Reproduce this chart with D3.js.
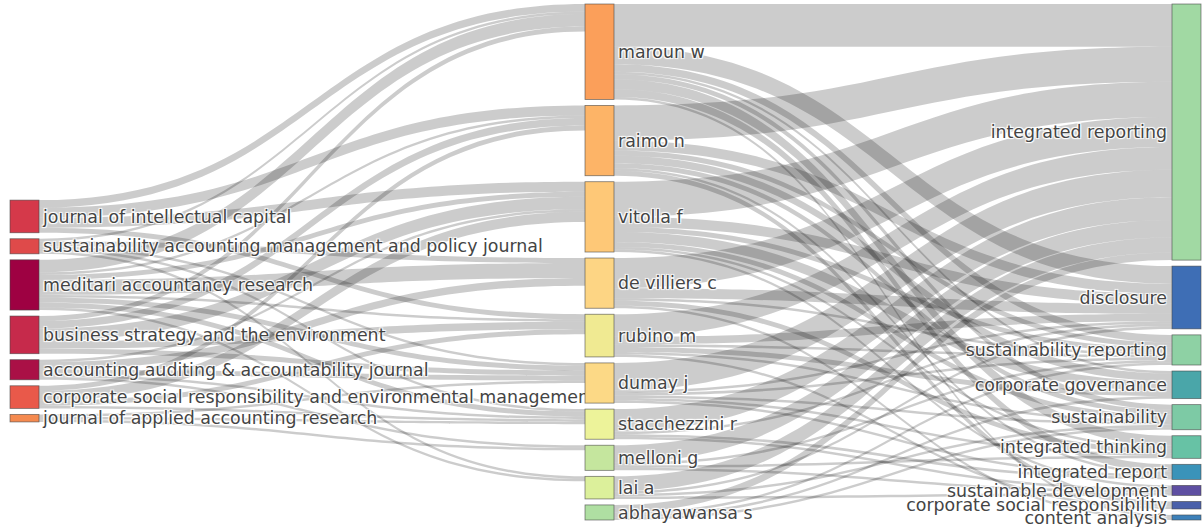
<!DOCTYPE html>
<html>
<head>
<meta charset="utf-8">
<script src="https://cdn.jsdelivr.net/npm/d3@7"></script>
<style>
    body { margin: 0; background: #fff; }
    svg { display: block; }
    .node-label {
        font-family: "DejaVu Sans", Verdana, sans-serif;
        font-size: 17.4px;
        fill: #444;
        text-shadow: 1px 1px 1px #fff, -1px -1px 1px #fff, 1px -1px 1px #fff, -1px 1px 1px #fff;
    }
</style>
</head>
<body>
<div id="chart"></div>
<script>
'use strict';

// three fields: sources (left), authors (middle), keywords (right)
const journals = [
    'journal of intellectual capital',
    'sustainability accounting management and policy journal',
    'meditari accountancy research',
    'business strategy and the environment',
    'accounting auditing & accountability journal',
    'corporate social responsibility and environmental management',
    'journal of applied accounting research'
];

const authors = [
    'maroun w', 'raimo n', 'vitolla f', 'de villiers c', 'rubino m',
    'dumay j', 'stacchezzini r', 'melloni g', 'lai a', 'abhayawansa s'
];

const keywords = [
    'integrated reporting', 'disclosure', 'sustainability reporting',
    'corporate governance', 'sustainability', 'integrated thinking',
    'integrated report', 'sustainable development',
    'corporate social responsibility', 'content analysis'
];

// [journal, author, documents]
const journal_author = [
    ['journal of intellectual capital', 'maroun w', 3],
    ['journal of intellectual capital', 'raimo n', 4],
    ['journal of intellectual capital', 'vitolla f', 4],
    ['journal of intellectual capital', 'rubino m', 2],
    ['sustainability accounting management and policy journal', 'maroun w', 1],
    ['sustainability accounting management and policy journal', 'de villiers c', 2],
    ['sustainability accounting management and policy journal', 'dumay j', 1],
    ['sustainability accounting management and policy journal', 'stacchezzini r', 1],
    ['sustainability accounting management and policy journal', 'lai a', 1],
    ['meditari accountancy research', 'maroun w', 5],
    ['meditari accountancy research', 'raimo n', 1],
    ['meditari accountancy research', 'vitolla f', 2],
    ['meditari accountancy research', 'de villiers c', 6],
    ['meditari accountancy research', 'rubino m', 1],
    ['meditari accountancy research', 'dumay j', 2],
    ['meditari accountancy research', 'stacchezzini r', 2],
    ['meditari accountancy research', 'lai a', 1],
    ['business strategy and the environment', 'maroun w', 2],
    ['business strategy and the environment', 'raimo n', 3],
    ['business strategy and the environment', 'vitolla f', 5],
    ['business strategy and the environment', 'rubino m', 3],
    ['business strategy and the environment', 'dumay j', 2],
    ['accounting auditing & accountability journal', 'vitolla f', 1],
    ['accounting auditing & accountability journal', 'de villiers c', 3],
    ['accounting auditing & accountability journal', 'dumay j', 2],
    ['accounting auditing & accountability journal', 'stacchezzini r', 1],
    ['accounting auditing & accountability journal', 'melloni g', 1],
    ['corporate social responsibility and environmental management', 'raimo n', 2],
    ['corporate social responsibility and environmental management', 'vitolla f', 4],
    ['corporate social responsibility and environmental management', 'rubino m', 2],
    ['corporate social responsibility and environmental management', 'stacchezzini r', 1],
    ['journal of applied accounting research', 'dumay j', 1],
    ['journal of applied accounting research', 'stacchezzini r', 1],
    ['journal of applied accounting research', 'melloni g', 1]
];

// [author, keyword, documents]
const author_keyword = [
    ['maroun w', 'integrated reporting', 17],
    ['maroun w', 'disclosure', 7],
    ['maroun w', 'sustainability reporting', 3],
    ['maroun w', 'corporate governance', 1],
    ['maroun w', 'sustainability', 2],
    ['maroun w', 'integrated thinking', 4],
    ['maroun w', 'integrated report', 3],
    ['maroun w', 'content analysis', 1],
    ['raimo n', 'integrated reporting', 14],
    ['raimo n', 'disclosure', 4],
    ['raimo n', 'sustainability reporting', 2],
    ['raimo n', 'corporate governance', 3],
    ['raimo n', 'sustainability', 2],
    ['raimo n', 'integrated report', 1],
    ['raimo n', 'corporate social responsibility', 2],
    ['vitolla f', 'integrated reporting', 14],
    ['vitolla f', 'disclosure', 4],
    ['vitolla f', 'sustainability reporting', 2],
    ['vitolla f', 'corporate governance', 4],
    ['vitolla f', 'sustainability', 2],
    ['vitolla f', 'integrated thinking', 1],
    ['vitolla f', 'sustainable development', 1],
    ['de villiers c', 'integrated reporting', 12],
    ['de villiers c', 'disclosure', 4],
    ['de villiers c', 'sustainability reporting', 1],
    ['de villiers c', 'integrated thinking', 2],
    ['de villiers c', 'content analysis', 1],
    ['rubino m', 'integrated reporting', 9],
    ['rubino m', 'disclosure', 3],
    ['rubino m', 'sustainability reporting', 1],
    ['rubino m', 'corporate governance', 2],
    ['rubino m', 'sustainability', 1],
    ['rubino m', 'corporate social responsibility', 1],
    ['dumay j', 'integrated reporting', 11],
    ['dumay j', 'disclosure', 1],
    ['dumay j', 'sustainability reporting', 1],
    ['dumay j', 'sustainability', 1],
    ['dumay j', 'integrated thinking', 1],
    ['dumay j', 'integrated report', 1],
    ['stacchezzini r', 'integrated reporting', 9],
    ['stacchezzini r', 'disclosure', 1],
    ['stacchezzini r', 'integrated report', 1],
    ['stacchezzini r', 'sustainable development', 1],
    ['melloni g', 'integrated reporting', 7],
    ['melloni g', 'sustainability reporting', 1],
    ['melloni g', 'integrated thinking', 1],
    ['melloni g', 'sustainable development', 1],
    ['lai a', 'integrated reporting', 6],
    ['lai a', 'disclosure', 1],
    ['lai a', 'sustainability', 1],
    ['lai a', 'sustainable development', 1],
    ['abhayawansa s', 'integrated reporting', 3],
    ['abhayawansa s', 'sustainability reporting', 1],
    ['abhayawansa s', 'corporate governance', 1],
    ['abhayawansa s', 'sustainability', 1]
];

// node colours, same order as the name lists
const journal_colors = ['#d5394a', '#df4a4a', '#9e0142', '#c62a4b', '#aa1046', '#e9594a', '#f58a4f'];
const author_colors = ['#fb9f5a', '#fdb467', '#fec877', '#fdd584', '#f0ea92',
                       '#fcd986', '#edf39a', '#c5e69e', '#dcf09b', '#afdfa2'];
const keyword_colors = ['#a1d9a3', '#3e6eb5', '#8ed1a4', '#4aa6a9', '#7dcaa5',
                        '#67c2a5', '#3a93b9', '#5e4fa2', '#4a60aa', '#3c80b9'];

// layout settings
const width = 1202, height = 527;
const margin = {top: 4, bottom: 7};
const node_width = 29, node_padding = 6;
const left_align = 0.595;   // vertical centre of the first column, as share of plot height

const column_x = d3.scaleOrdinal().domain([0, 1, 2]).range([10, 585, 1172]);

// build nodes
const columns = [journals, authors, keywords];
const column_colors = [journal_colors, author_colors, keyword_colors];
const node_map = new Map();
const nodes = [];
columns.forEach((names, col) => names.forEach((name, i) => {
    const n = {name: name, col: col, color: column_colors[col][i], in_links: [], out_links: []};
    node_map.set(col + '|' + name, n);
    nodes.push(n);
}));

// build links
const links = [];
journal_author.forEach(([s, t, v]) => links.push({source: node_map.get('0|' + s), target: node_map.get('1|' + t), value: v}));
author_keyword.forEach(([s, t, v]) => links.push({source: node_map.get('1|' + s), target: node_map.get('2|' + t), value: v}));
links.forEach(l => { l.source.out_links.push(l); l.target.in_links.push(l); });
nodes.forEach(n => {
    n.value = Math.max(d3.sum(n.in_links, l => l.value), d3.sum(n.out_links, l => l.value));
});

// value -> pixel scale, fitted to the fullest column
const plot_h = height - margin.top - margin.bottom;
const ky = d3.min(columns, (names, col) =>
    (plot_h - (names.length - 1) * node_padding) / d3.sum(names, name => node_map.get(col + '|' + name).value));
const y = d3.scaleLinear().domain([0, 1]).range([0, ky]);

// stack nodes in each column
columns.forEach((names, col) => {
    const col_nodes = names.map(name => node_map.get(col + '|' + name));
    const total = d3.sum(col_nodes, n => y(n.value)) + (col_nodes.length - 1) * node_padding;
    let y0 = col === 0 ? margin.top + plot_h * left_align - total / 2 : margin.top;
    col_nodes.forEach(n => {
        n.x0 = column_x(col);
        n.x1 = n.x0 + node_width;
        n.y0 = y0;
        n.y1 = y0 + y(n.value);
        y0 = n.y1 + node_padding;
    });
});

// link slots, ordered by the position of the other end
nodes.forEach(n => {
    let sy = n.y0;
    n.out_links.sort((a, b) => a.target.y0 - b.target.y0).forEach(l => {
        l.width = y(l.value);
        l.sy0 = sy; sy += l.width;
    });
    let ty = n.y0;
    n.in_links.sort((a, b) => a.source.y0 - b.source.y0).forEach(l => {
        l.ty0 = ty; ty += y(l.value);
    });
});

function link_path(d){
    const x0 = d.source.x1, x1 = d.target.x0;
    const xi = d3.interpolateNumber(x0, x1);
    const x2 = xi(0.5), x3 = xi(0.5);
    const y0a = d.sy0, y0b = d.sy0 + d.width;
    const y1a = d.ty0, y1b = d.ty0 + d.width;
    return `M${x0},${y0a}C${x2},${y0a} ${x3},${y1a} ${x1},${y1a}` +
           `L${x1},${y1b}C${x3},${y1b} ${x2},${y0b} ${x0},${y0b}Z`;
}

// create svg
const svg = d3.select('#chart').append('svg')
    .attr('width', width)
    .attr('height', height);

// draw links
svg.append('g')
    .selectAll('path')
    .data(links)
    .enter()
    .append('path')
    .attr('d', link_path)
    .attr('fill', 'rgba(0,0,0,0.2)');

// draw nodes
const node_g = svg.append('g')
    .selectAll('g')
    .data(nodes)
    .enter()
    .append('g');

node_g.append('rect')
    .attr('x', d => d.x0)
    .attr('y', d => d.y0)
    .attr('width', node_width)
    .attr('height', d => Math.max(1, d.y1 - d.y0))
    .attr('fill', d => d.color)
    .attr('stroke', 'rgba(68,68,68,0.7)')
    .attr('stroke-width', 0.8);

node_g.append('text')
    .attr('class', 'node-label')
    .attr('x', d => d.col === 2 ? d.x0 - 5 : d.x1 + 4)
    .attr('y', d => (d.y0 + d.y1) / 2)
    .attr('dy', '0.35em')
    .attr('text-anchor', d => d.col === 2 ? 'end' : 'start')
    .text(d => d.name);
</script>
</body>
</html>
